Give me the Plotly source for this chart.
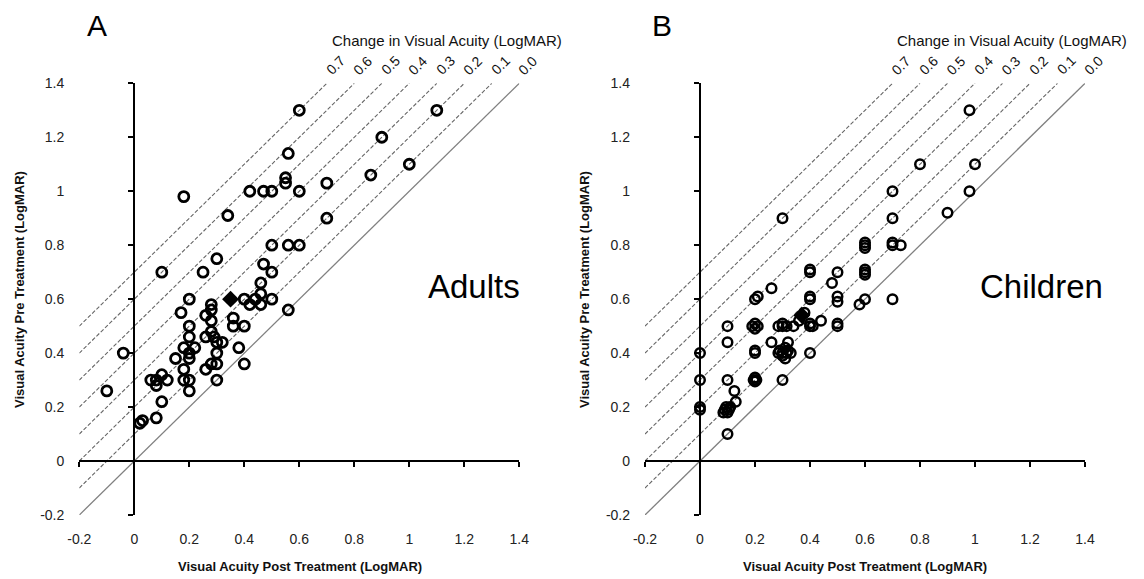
import plotly.graph_objects as go

# ---------------- data ----------------
tick_vals = [-0.2, 0, 0.2, 0.4, 0.6, 0.8, 1, 1.2, 1.4]
tick_text = ["-0.2", "0", "0.2", "0.4", "0.6", "0.8", "1", "1.2", "1.4"]
changes = [0.0, 0.1, 0.2, 0.3, 0.4, 0.5, 0.6, 0.7]
change_labels = ["0.0", "0.1", "0.2", "0.3", "0.4", "0.5", "0.6", "0.7"]

adult_post = [0.60, 1.10, 0.90, 0.56, 1.00, 0.86, 0.55, 0.55, 0.70, 0.18, 0.42, 0.47, 0.50, 0.60,
              0.34, 0.70, 0.50, 0.56, 0.60, 0.30, 0.10, 0.25, 0.47, 0.50, 0.46, 0.46, 0.20, 0.28,
              0.28, 0.17, 0.40, 0.42, 0.44, 0.46, 0.50, 0.56, 0.36, 0.36, 0.40, 0.26, 0.28, 0.20,
              0.28, 0.20, 0.26, 0.29, 0.30, 0.32, 0.18, 0.22, 0.20, 0.30, 0.38, 0.15, 0.20, -0.04,
              0.18, 0.26, 0.28, 0.30, 0.40, 0.10, 0.06, 0.08, 0.12, 0.18, 0.20, 0.30, 0.08, 0.20,
              -0.10, 0.10, 0.08, 0.02, 0.03]
adult_pre = [1.30, 1.30, 1.20, 1.14, 1.10, 1.06, 1.05, 1.03, 1.03, 0.98, 1.00, 1.00, 1.00, 1.00,
             0.91, 0.90, 0.80, 0.80, 0.80, 0.75, 0.70, 0.70, 0.73, 0.70, 0.66, 0.62, 0.60, 0.58,
             0.56, 0.55, 0.60, 0.58, 0.60, 0.58, 0.60, 0.56, 0.53, 0.50, 0.50, 0.54, 0.52, 0.50,
             0.48, 0.46, 0.46, 0.46, 0.44, 0.44, 0.42, 0.42, 0.40, 0.40, 0.42, 0.38, 0.38, 0.40,
             0.34, 0.34, 0.36, 0.36, 0.36, 0.32, 0.30, 0.30, 0.30, 0.30, 0.30, 0.30, 0.28, 0.26,
             0.26, 0.22, 0.16, 0.14, 0.15]
adult_mean_post = [0.35]
adult_mean_pre = [0.60]

child_post = [0.98, 0.80, 1.00, 0.70, 0.98, 0.90, 0.30, 0.70,
              0.60, 0.60, 0.60, 0.70, 0.70, 0.73,
              0.40, 0.40, 0.50, 0.60, 0.60, 0.60, 0.48, 0.26,
              0.20, 0.21, 0.40, 0.40, 0.50, 0.50, 0.58, 0.60, 0.70,
              0.10, 0.19, 0.21, 0.20, 0.20, 0.285, 0.30, 0.315, 0.30, 0.34, 0.36, 0.38,
              0.40, 0.40, 0.41, 0.44, 0.50, 0.50,
              0.10, 0.26, 0.32, 0.20, 0.20,
              0.285, 0.30, 0.315, 0.33, 0.30, 0.31, 0.32, 0.29, 0.31, 0.40,
              0.00, 0.00, 0.10, 0.195, 0.205, 0.20, 0.20, 0.30, 0.125, 0.13,
              0.00, 0.00, 0.09, 0.10, 0.11, 0.095, 0.105, 0.085, 0.10]
child_pre = [1.30, 1.10, 1.10, 1.00, 1.00, 0.92, 0.90, 0.90,
             0.79, 0.80, 0.81, 0.81, 0.80, 0.80,
             0.71, 0.70, 0.70, 0.71, 0.70, 0.69, 0.66, 0.64,
             0.60, 0.61, 0.61, 0.60, 0.61, 0.59, 0.58, 0.60, 0.60,
             0.50, 0.50, 0.50, 0.49, 0.51, 0.50, 0.50, 0.50, 0.51, 0.50, 0.52, 0.55,
             0.50, 0.51, 0.50, 0.52, 0.50, 0.51,
             0.44, 0.44, 0.44, 0.41, 0.40,
             0.40, 0.40, 0.40, 0.40, 0.39, 0.42, 0.41, 0.41, 0.38, 0.40,
             0.40, 0.30, 0.30, 0.30, 0.30, 0.31, 0.295, 0.30, 0.26, 0.22,
             0.20, 0.19, 0.19, 0.18, 0.20, 0.20, 0.19, 0.18, 0.10]
child_mean_post = [0.37]
child_mean_pre = [0.54]

panel_letters = ["A", "B"]
group_labels = ["Adults", "Children"]
x_title = "Visual Acuity Post Treatment (LogMAR)"
y_title = "Visual Acuity Pre Treatment (LogMAR)"
top_title = "Change in Visual Acuity (LogMAR)"

# ---------------- figure ----------------
W, H = 1144, 579
OFF = 8  # page body margin offset
FONT = "Liberation Sans, Arial, sans-serif"
lo, hi = -0.2, 1.4


def px(x):
    return (x - OFF) / W


def py(y):
    return 1 - (y - OFF) / H


x_domains = [[px(79.3), px(519.3)], [px(645), px(1085)]]
y_domain = [py(515), py(83.3)]


def at_zero(dom):
    return dom[0] + (0 - lo) / (hi - lo) * (dom[1] - dom[0])


fig = go.Figure()

panels = [
    dict(xa="x", ya="y", post=adult_post, pre=adult_pre, mpost=adult_mean_post, mpre=adult_mean_pre,
         msize=10, mlw=2.8),
    dict(xa="x2", ya="y2", post=child_post, pre=child_pre, mpost=child_mean_post, mpre=child_mean_pre,
         msize=9.5, mlw=2.5),
]

for p in panels:
    for c in changes:
        fig.add_trace(go.Scatter(
            x=[lo, hi - c], y=[lo + c, hi], mode="lines", xaxis=p["xa"], yaxis=p["ya"],
            line=dict(color="#808080" if c == 0 else "#666666", width=1.3 if c == 0 else 1.1,
                      dash="solid" if c == 0 else "4px,2px"),
            hoverinfo="skip", showlegend=False))
    fig.add_trace(go.Scatter(
        x=p["post"], y=p["pre"], mode="markers", xaxis=p["xa"], yaxis=p["ya"],
        marker=dict(symbol="circle-open", size=p["msize"], color="black",
                    line=dict(color="black", width=p["mlw"])),
        showlegend=False))
    fig.add_trace(go.Scatter(
        x=p["mpost"], y=p["mpre"], mode="markers", xaxis=p["xa"], yaxis=p["ya"],
        marker=dict(symbol="diamond", size=13, color="black"),
        showlegend=False))

# empty traces so the crossing zero-axes (with tick marks) get drawn
for xa, ya in [("x3", "y3"), ("x4", "y4")]:
    fig.add_trace(go.Scatter(x=[None], y=[None], mode="markers", xaxis=xa, yaxis=ya,
                             showlegend=False, hoverinfo="skip"))

label_axis = dict(range=[lo, hi], tickvals=tick_vals, ticktext=tick_text, showgrid=False,
                  showline=False, zeroline=False, ticks="",
                  tickfont=dict(family=FONT, size=14, color="#222"),
                  ticklabelstandoff=14, fixedrange=True, automargin=False)
cross_axis = dict(range=[lo, hi], tickvals=tick_vals, showgrid=False, showticklabels=False,
                  showline=True, linecolor="black", linewidth=2, zeroline=False,
                  ticks="outside", ticklen=5, tickwidth=2, tickcolor="black",
                  anchor="free", fixedrange=True, automargin=False)

fig.update_layout(
    template="none",
    width=W, height=H, margin=dict(l=0, r=0, t=0, b=0, pad=0, autoexpand=False),
    plot_bgcolor="white", paper_bgcolor="white", showlegend=False,
    xaxis=dict(domain=x_domains[0], anchor="y", **label_axis),
    yaxis=dict(domain=y_domain, anchor="x", **label_axis),
    xaxis2=dict(domain=x_domains[1], anchor="y2", **label_axis),
    yaxis2=dict(domain=y_domain, anchor="x2", **label_axis),
    xaxis3=dict(domain=x_domains[0], overlaying="x", position=at_zero(y_domain), **cross_axis),
    yaxis3=dict(domain=y_domain, overlaying="y", position=at_zero(x_domains[0]), **cross_axis),
    xaxis4=dict(domain=x_domains[1], overlaying="x2", position=at_zero(y_domain), **cross_axis),
    yaxis4=dict(domain=y_domain, overlaying="y2", position=at_zero(x_domains[1]), **cross_axis),
)

shapes = []
annotations = []
for i, (xa, ya) in enumerate([("x", "y"), ("x2", "y2")]):
    # change labels at ends of diagonal lines
    for c, lab in zip(changes, change_labels):
        annotations.append(dict(xref=xa, yref=ya, x=hi - c, y=hi, xshift=9, yshift=18,
                                text=lab, textangle=-45,
                                font=dict(family=FONT, size=14, color="#111")))

dx = [0, 565]
for i in range(2):
    annotations += [
        dict(x=px(97 + dx[i]), y=py(25), text=panel_letters[i],
             font=dict(family=FONT, size=30, color="black")),
        dict(x=px(447 + dx[i]), y=py(41), text=top_title,
             font=dict(family=FONT, size=15, color="#111")),
        dict(x=px(300 + dx[i]), y=py(566), text="<b>" + x_title + "</b>",
             font=dict(family=FONT, size=13, color="#111")),
        dict(x=px(19 + dx[i]), y=py(290), text="<b>" + y_title + "</b>", textangle=-90,
             font=dict(family=FONT, size=13, color="#111")),
    ]
annotations += [
    dict(x=px(474), y=py(287), text=group_labels[0], font=dict(family=FONT, size=33, color="black")),
    dict(x=px(1041), y=py(287), text=group_labels[1], font=dict(family=FONT, size=33, color="black")),
]
for a in annotations:
    a.setdefault("xref", "paper")
    a.setdefault("yref", "paper")
    a.setdefault("xanchor", "center")
    a.setdefault("yanchor", "middle")
    a.setdefault("showarrow", False)

# thin gray border remnant at the far left of the figure
shapes.append(dict(type="line", xref="paper", yref="paper", x0=px(7), x1=px(7), y0=py(0), y1=py(290),
                   line=dict(color="#999", width=1.5)))

fig.update_layout(shapes=shapes, annotations=annotations)
fig.write_html("out.html")
